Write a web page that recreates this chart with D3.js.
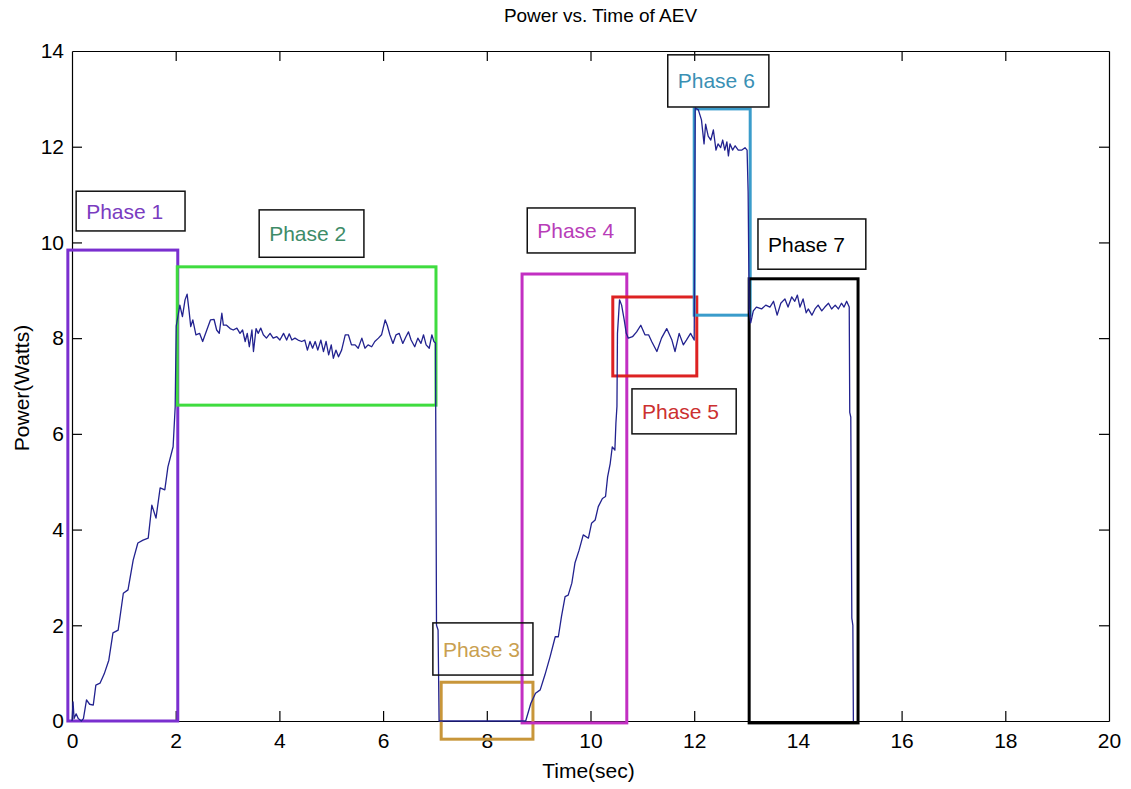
<!DOCTYPE html>
<html>
<head>
<meta charset="utf-8">
<script src="https://cdn.jsdelivr.net/npm/d3@7"></script>
<style>
  body { margin: 0; background: #fff; }
  svg { display: block; }
  text { font-family: "Liberation Sans", Arial, sans-serif; }
</style>
</head>
<body>
<svg id="chart"></svg>
<script>
// power trace (sec, watts)
const timeSec = [
  0, 0.02, 0.04, 0.08, 0.12, 0.18, 0.22, 0.28, 0.34, 0.41, 0.46, 0.54, 0.62, 0.71, 0.79, 0.89, 0.99, 1.08, 1.18, 1.27,
  1.37, 1.47, 1.54, 1.62, 1.70, 1.79, 1.85, 1.95, 1.99, 2.01,
  2.08, 2.13, 2.18, 2.22, 2.26, 2.29, 2.33, 2.39, 2.46, 2.52, 2.60, 2.67, 2.74, 2.79, 2.84, 2.89, 2.92, 2.98, 3.05, 3.11,
  3.18, 3.24, 3.29, 3.34, 3.38, 3.42, 3.47, 3.50, 3.55, 3.59, 3.64, 3.69, 3.75, 3.82, 3.88, 3.95, 4.01, 4.08, 4.14, 4.19,
  4.24, 4.30, 4.36, 4.43, 4.49, 4.54, 4.59, 4.64, 4.69, 4.74, 4.80, 4.85, 4.90, 4.95, 5.00, 5.04, 5.09, 5.14, 5.20, 5.27,
  5.33, 5.39, 5.46, 5.52, 5.59, 5.65, 5.71, 5.78, 5.84, 5.91, 5.97, 6.04, 6.08, 6.13, 6.19, 6.25, 6.31, 6.38, 6.44, 6.49,
  6.54, 6.61, 6.67, 6.73, 6.78, 6.83, 6.89, 6.94, 6.98, 7.01, 7.03, 7.06, 7.08, 8.75,
  8.85, 8.94, 9.03, 9.12, 9.22, 9.32, 9.38, 9.44, 9.51, 9.57, 9.64, 9.70, 9.78, 9.86, 9.96, 10.02, 10.09, 10.15, 10.23, 10.29,
  10.33, 10.38, 10.42, 10.47, 10.49, 10.51, 10.52, 10.56, 10.60, 10.65, 10.69, 10.73, 10.81, 10.89, 10.97, 11.05, 11.12, 11.18, 11.28, 11.37,
  11.47, 11.57, 11.63, 11.71, 11.79, 11.85, 11.93, 12.00,
  12.02, 12.08, 12.14, 12.19, 12.22, 12.27, 12.32, 12.37, 12.42, 12.46, 12.51, 12.55, 12.59, 12.63, 12.66, 12.69, 12.74, 12.79, 12.85, 12.92,
  12.98, 13.02, 13.04, 13.06, 13.09,
  13.14, 13.20, 13.30, 13.38, 13.46, 13.53, 13.60, 13.67, 13.75, 13.81, 13.88, 13.94, 13.99, 14.04, 14.10, 14.16, 14.20, 14.27, 14.33, 14.39,
  14.46, 14.52, 14.59, 14.65, 14.72, 14.78, 14.84, 14.89, 14.94, 14.99, 15.00, 15.02, 15.04, 15.06, 15.07
];
const powerW = [
  0, 0.40, 0.05, 0.15, 0.05, 0.00, 0.05, 0.44, 0.35, 0.33, 0.75, 0.79, 0.98, 1.27, 1.84, 1.90, 2.67, 2.74, 3.36, 3.72,
  3.78, 3.82, 4.51, 4.24, 4.87, 4.83, 5.31, 5.73, 6.56, 8.25,
  8.69, 8.45, 8.80, 8.92, 8.55, 8.24, 8.38, 8.07, 8.10, 7.93, 8.17, 8.38, 8.39, 8.17, 8.10, 8.52, 8.27, 8.27, 8.20, 8.17,
  8.21, 8.10, 8.17, 7.93, 8.10, 7.82, 8.17, 7.72, 8.20, 8.10, 8.21, 8.07, 8.00, 8.10, 8.00, 8.03, 7.96, 8.10, 7.96, 8.09,
  7.96, 8.00, 7.96, 7.93, 7.96, 7.75, 7.93, 7.79, 7.93, 7.75, 7.96, 7.72, 7.93, 7.65, 7.86, 7.58, 7.75, 7.61, 7.75, 8.07,
  8.07, 7.86, 7.86, 7.79, 8.00, 7.79, 7.86, 7.82, 7.93, 8.00, 8.07, 8.38, 8.27, 8.07, 7.89, 8.07, 8.10, 7.89, 8.03, 8.13,
  7.96, 7.82, 8.00, 7.89, 8.07, 7.86, 7.79, 8.07, 7.93, 7.90, 2.00, 1.90, 0, 0,
  0.37, 0.58, 0.65, 0.96, 1.34, 1.76, 1.76, 2.18, 2.60, 2.63, 2.88, 3.30, 3.57, 3.89, 3.82, 4.13, 4.20, 4.48, 4.65, 4.69,
  5.10, 5.38, 5.73, 5.66, 6.22, 6.57, 8.10, 8.80, 8.69, 8.38, 8.10, 8.00, 8.03, 8.13, 8.27, 8.07, 8.07, 7.93, 7.72, 8.00,
  8.20, 7.96, 7.72, 8.10, 7.86, 7.96, 8.10, 7.96,
  12.81, 12.77, 12.56, 12.06, 12.47, 12.22, 12.14, 12.35, 11.93, 12.06, 11.98, 12.14, 11.93, 12.10, 11.81, 12.06, 11.93, 12.02, 11.93, 11.93,
  11.98, 11.93, 11.06, 8.60, 8.32,
  8.57, 8.65, 8.61, 8.69, 8.65, 8.77, 8.48, 8.73, 8.82, 8.65, 8.86, 8.77, 8.90, 8.65, 8.82, 8.53, 8.61, 8.48, 8.61, 8.69,
  8.57, 8.65, 8.73, 8.61, 8.69, 8.61, 8.73, 8.65, 8.77, 8.65, 6.45, 6.35, 2.15, 2.00, 0
];

// phase boxes drawn around parts of the trace (data units)
const phaseNames = ["Phase 1", "Phase 2", "Phase 3", "Phase 4", "Phase 5", "Phase 6", "Phase 7"];
const phaseStart = [-0.08, 2.03, 7.12, 8.68, 10.43, 12.00, 13.06];
const phaseEnd   = [2.04, 7.02, 8.89, 10.70, 12.05, 13.08, 15.16];
const phaseLow   = [0.00, 6.60, -0.38, -0.04, 7.21, 8.48, -0.04];
const phaseHigh  = [9.84, 9.49, 0.81, 9.34, 8.86, 12.79, 9.24];

// label boxes (data units)
const labelStart = [0.08, 3.61, 6.96, 8.78, 10.80, 11.49, 13.23];
const labelEnd   = [2.18, 5.63, 8.89, 10.86, 12.81, 13.44, 15.31];
const labelLow   = [10.24, 9.69, 0.96, 9.78, 6.00, 12.83, 9.44];
const labelHigh  = [11.07, 10.68, 2.05, 10.72, 6.94, 13.92, 10.49];

const xTicks = [0, 2, 4, 6, 8, 10, 12, 14, 16, 18, 20];
const yTicks = [0, 2, 4, 6, 8, 10, 12, 14];

const boxColors  = ["#7a2fcf", "#3fdc3f", "#c8963a", "#c22fc2", "#dd2222", "#3a9ccb", "#000000"];
const textColors = ["#7a3cc0", "#3e8c68", "#c9a050", "#b83db8", "#cc3030", "#3a90b4", "#000000"];

const width = 1131, height = 789;
const margin = { top: 51, right: 22, bottom: 68, left: 72 };

const svg = d3.select("#chart").attr("width", width).attr("height", height);
svg.append("rect").attr("width", width).attr("height", height).attr("fill", "#fff");

const x = d3.scaleLinear().domain([0, 20]).range([margin.left, width - margin.right]);
const y = d3.scaleLinear().domain([0, 14]).range([height - margin.bottom, margin.top]);

// axes, MATLAB style box with inward ticks
const tick = 10;
svg.append("g")
  .attr("transform", `translate(0,${y(0)})`)
  .call(d3.axisBottom(x).tickValues(xTicks).tickSize(-tick).tickPadding(12).tickSizeOuter(0))
  .call(g => g.selectAll("text").attr("font-size", 21).attr("fill", "#000"));
svg.append("g")
  .attr("transform", `translate(0,${y(14)})`)
  .call(d3.axisTop(x).tickValues(xTicks).tickSize(-tick).tickFormat("").tickSizeOuter(0));
svg.append("g")
  .attr("transform", `translate(${x(0)},0)`)
  .call(d3.axisLeft(y).tickValues(yTicks).tickSize(-tick).tickPadding(8).tickSizeOuter(0))
  .call(g => g.selectAll("text").attr("font-size", 21).attr("fill", "#000"));
svg.append("g")
  .attr("transform", `translate(${x(20)},0)`)
  .call(d3.axisRight(y).tickValues(yTicks).tickSize(-tick).tickFormat("").tickSizeOuter(0));
svg.selectAll(".domain, .tick line").attr("stroke", "#000").attr("stroke-width", 1.2);
svg.selectAll(".tick").filter(d => d === 0 || d === 20 || d === 14).select("line").attr("opacity", 0);

// phase rectangles
const phases = phaseNames.map((name, i) => ({
  name, t0: phaseStart[i], t1: phaseEnd[i], p0: phaseLow[i], p1: phaseHigh[i],
  l0: labelStart[i], l1: labelEnd[i], q0: labelLow[i], q1: labelHigh[i],
  box: boxColors[i], txt: textColors[i]
}));

svg.append("g").selectAll("rect")
  .data(phases)
  .join("rect")
  .attr("x", d => x(d.t0))
  .attr("y", d => y(d.p1))
  .attr("width", d => x(d.t1) - x(d.t0))
  .attr("height", d => y(d.p0) - y(d.p1))
  .attr("fill", "none")
  .attr("stroke", d => d.box)
  .attr("stroke-width", 3);

// power trace
const line = d3.line()
  .x(i => x(timeSec[i]))
  .y(i => y(powerW[i]));
svg.append("path")
  .attr("d", line(d3.range(timeSec.length)))
  .attr("fill", "none")
  .attr("stroke", "#22228f")
  .attr("stroke-width", 1.3)
  .attr("stroke-linejoin", "round");

// label boxes + text
const labels = svg.append("g").selectAll("g")
  .data(phases)
  .join("g");
labels.append("rect")
  .attr("x", d => x(d.l0))
  .attr("y", d => y(d.q1))
  .attr("width", d => x(d.l1) - x(d.l0))
  .attr("height", d => y(d.q0) - y(d.q1))
  .attr("fill", "none")
  .attr("stroke", "#111")
  .attr("stroke-width", 1.5);
labels.append("text")
  .attr("x", d => x(d.l0) + 10)
  .attr("y", d => (y(d.q0) + y(d.q1)) / 2)
  .attr("dy", "0.36em")
  .attr("font-size", 21)
  .attr("fill", d => d.txt)
  .text(d => d.name);

// titles
svg.append("text")
  .attr("x", (x(0) + x(20)) / 2 + 10)
  .attr("y", 22)
  .attr("text-anchor", "middle")
  .attr("font-size", 19)
  .text("Power vs. Time of AEV");
svg.append("text")
  .attr("x", (x(0) + x(20)) / 2 - 2)
  .attr("y", 778)
  .attr("text-anchor", "middle")
  .attr("font-size", 21)
  .text("Time(sec)");
svg.append("text")
  .attr("transform", `translate(29,${(y(0) + y(14)) / 2 + 2}) rotate(-90)`)
  .attr("text-anchor", "middle")
  .attr("font-size", 21)
  .text("Power(Watts)");
</script>
</body>
</html>
